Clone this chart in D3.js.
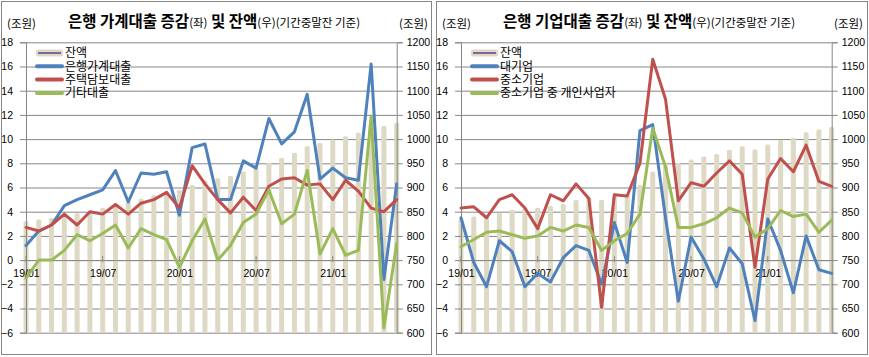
<!DOCTYPE html>
<html><head><meta charset="utf-8">
<script src="https://cdn.jsdelivr.net/npm/d3@7"></script>
<style>
body{margin:0;background:#fff}
svg{display:block}
text{font-family:"Noto Sans CJK KR","Liberation Sans",sans-serif;fill:#000}
.num{font-family:"Liberation Sans","DejaVu Sans",sans-serif}
</style>
</head><body>
<svg id="c" width="869" height="357"></svg>
<script>
// ---- data ----
const months = ["19/01","19/02","19/03","19/04","19/05","19/06","19/07","19/08","19/09","19/10","19/11","19/12",
                "20/01","20/02","20/03","20/04","20/05","20/06","20/07","20/08","20/09","20/10","20/11","20/12",
                "21/01","21/02","21/03","21/04","21/05","21/06"];
const xTickLabels = ["19/01","19/07","20/01","20/07","21/01"];
const leftTicks = [18,16,14,12,10,8,6,4,2,0,-2,-4,-6];
const rightTicks = [1200,1150,1100,1050,1000,950,900,850,800,750,700,650,600];

// 은행 가계대출 (left panel)
const hhBalance  = [831,834,837,842,847,852,858,864,870,877,884,891,895,905,914,919,924,933,940,951,961,972,985,992,999,1006,1013,1029,1027,1034];
const hhTotal    = [1.2,2.4,2.9,4.5,5.0,5.4,5.8,7.4,4.8,7.2,7.1,7.3,3.7,9.3,9.6,5.0,5.0,8.2,7.6,11.7,9.6,10.6,13.7,6.7,7.6,6.8,6.6,16.2,-1.6,6.3];
const hhMortgage = [2.7,2.4,2.9,3.8,2.9,4.0,3.8,4.6,3.8,4.7,5.0,5.6,4.3,7.8,6.3,5.0,3.9,5.2,4.1,6.1,6.7,6.8,6.2,6.3,5.0,6.6,5.7,4.3,4.0,5.0];
const hhOther    = [-1.5,0.0,0.0,0.8,2.1,1.6,2.2,2.9,1.0,2.6,2.1,1.7,-0.6,1.6,3.4,0.0,1.2,3.1,3.8,5.8,3.0,3.8,7.4,0.5,2.6,0.4,0.8,11.9,-5.6,1.4];

// 은행 기업대출 (right panel)
const corpBalance = [836,840,843,848,854,856,858,862,866,874,880,874,882,887,905,933,946,951,958,964,969,978,985,979,989,998,1003,1014,1020,1025];
const corpLarge   = [3.5,-0.2,-2.2,1.6,0.7,-2.2,-1.1,-1.8,0.2,1.2,0.8,-2.0,3.1,-0.2,10.7,11.2,3.5,-3.4,1.9,0.1,-2.2,1.0,-0.3,-5.0,3.4,0.8,-2.7,2.0,-0.8,-1.1];
const corpSME     = [4.3,4.4,3.5,5.0,5.4,4.3,2.6,5.4,4.9,6.3,5.1,-3.9,5.4,5.3,8.0,16.6,13.3,4.9,6.4,6.1,7.2,8.2,7.1,-0.6,6.7,8.4,7.3,9.5,6.5,6.1];
const corpSole    = [1.1,1.7,2.3,2.4,2.1,1.8,2.0,2.7,2.4,2.9,2.7,0.8,1.6,2.2,3.8,10.9,7.7,2.7,2.7,3.0,3.5,4.3,3.9,1.9,2.6,4.1,3.6,3.8,2.3,3.3];

const COL = {bar:"#DDD9C4", purple:"#8064A2", blue:"#4F81BD", red:"#C0504D", green:"#9BBB59", grid:"#868686"};

const svg = d3.select("#c");
svg.append("rect").attr("width",869).attr("height",357).attr("fill","#fff");

function drawPanel(ox, frameW, cfg){
  const g = svg.append("g").attr("transform",`translate(${ox},0)`);
  g.append("rect").attr("x",1.5).attr("y",1.5).attr("width",frameW).attr("height",353)
    .attr("fill","#fff").attr("stroke",COL.grid).attr("stroke-width",1);

  const x0 = 26, x1 = 396.7;
  const x = d3.scalePoint().domain(months).range([x0,x1]);
  const yL = d3.scaleLinear().domain([-6,18]).range([332.7,42.3]);
  const yR = d3.scaleLinear().domain([600,1200]).range([332.7,42.3]);

  // gridlines
  g.append("g").attr("transform",`translate(${x0},0)`)
    .call(d3.axisLeft(yL).tickValues(leftTicks).tickSize(-(x1-x0)).tickFormat(""))
    .call(s=>{s.select(".domain").remove();s.selectAll("line").attr("stroke",COL.grid);});

  // bars
  const bw = 5;
  g.append("g").selectAll("rect").data(cfg.balance).join("rect")
    .attr("x",(d,i)=>x(months[i])-bw/2).attr("width",bw)
    .attr("y",d=>yR(d)).attr("height",d=>yR(600)-yR(d))
    .attr("rx",1.5).attr("fill",COL.bar);

  // left axis
  g.append("g").attr("transform",`translate(${x0},0)`)
    .call(d3.axisLeft(yL).tickValues(leftTicks).tickSize(6).tickPadding(7).tickFormat(d3.format("d")))
    .call(s=>{s.selectAll("path,line").attr("stroke",COL.grid);
      s.selectAll("text").attr("class","num").style("font-size","10.5px").attr("fill","#000");});
  // right axis
  g.append("g").attr("transform",`translate(${x1},0)`)
    .call(d3.axisRight(yR).tickValues(rightTicks).tickSize(6).tickPadding(4).tickFormat(d3.format("d")))
    .call(s=>{s.selectAll("path,line").attr("stroke",COL.grid);
      s.selectAll("text").attr("class","num").style("font-size","10.5px").attr("fill","#000");});
  // x axis at 0
  g.append("g").attr("transform",`translate(0,${yL(0)})`)
    .call(d3.axisBottom(x).tickValues(xTickLabels).tickSize(0).tickPadding(9))
    .call(s=>{s.select(".domain").attr("stroke",COL.grid);
      s.selectAll("text").attr("class","num").style("font-size","10.5px").attr("fill","#000");});
  g.append("g").selectAll("line").data(xTickLabels).join("line")
    .attr("x1",d=>x(d)).attr("x2",d=>x(d)).attr("y1",yL(0)-4).attr("y2",yL(0)+2)
    .attr("stroke",COL.grid);

  // lines
  const series = [{v:cfg.s1,c:COL.blue},{v:cfg.s2,c:COL.red},{v:cfg.s3,c:COL.green}];
  const line = d3.line().x((d,i)=>x(months[i])).y(d=>yL(d));
  g.append("g").selectAll("path").data(series).join("path")
    .attr("d",d=>line(d.v)).attr("fill","none").attr("stroke",d=>d.c)
    .attr("stroke-width",3).attr("stroke-linejoin","round").attr("stroke-linecap","round");

  // legend
  const lg = g.append("g");
  const ly = [53,66.3,79.6,92.9];
  lg.append("rect").attr("x",36).attr("y",ly[0]-3.5).attr("width",27).attr("height",7).attr("rx",2).attr("fill",COL.bar);
  lg.append("line").attr("x1",38).attr("x2",61).attr("y1",ly[0]).attr("y2",ly[0]).attr("stroke",COL.purple).attr("stroke-width",2);
  [COL.blue,COL.red,COL.green].forEach((c,i)=>{
    lg.append("line").attr("x1",37).attr("x2",62).attr("y1",ly[i+1]).attr("y2",ly[i+1])
      .attr("stroke",c).attr("stroke-width",4).attr("stroke-linecap","round");
  });
  lg.selectAll("text").data(cfg.legend).join("text")
    .attr("x",65).attr("y",(d,i)=>ly[i]+4.3).style("font-size","12px").text(d=>d);

  // units
  g.append("text").attr("x",7).attr("y",28).style("font-size","11.5px").text("(조원)");
  g.append("text").attr("x",399).attr("y",28).style("font-size","11.5px").text("(조원)");

  // title
  const t = g.append("text").attr("x",68).attr("y",27);
  cfg.title.forEach(p=>{
    t.append("tspan").style("font-size",p.big?"15.5px":"11.5px").style("font-weight",p.big?"bold":"normal").text(p.t);
  });
}

drawPanel(0, 430, {
  balance:hhBalance, s1:hhTotal, s2:hhMortgage, s3:hhOther,
  legend:["잔액","은행가계대출","주택담보대출","기타대출"],
  title:[{t:"은행 가계대출 증감",big:true},{t:"(좌)",big:false},{t:" 및 잔액",big:true},{t:"(우)(기간중말잔 기준)",big:false}]
});
drawPanel(435, 431, {
  balance:corpBalance, s1:corpLarge, s2:corpSME, s3:corpSole,
  legend:["잔액","대기업","중소기업","중소기업 중 개인사업자"],
  title:[{t:"은행 기업대출 증감",big:true},{t:"(좌)",big:false},{t:" 및 잔액",big:true},{t:"(우)(기간중말잔 기준)",big:false}]
});
</script>
</body></html>
